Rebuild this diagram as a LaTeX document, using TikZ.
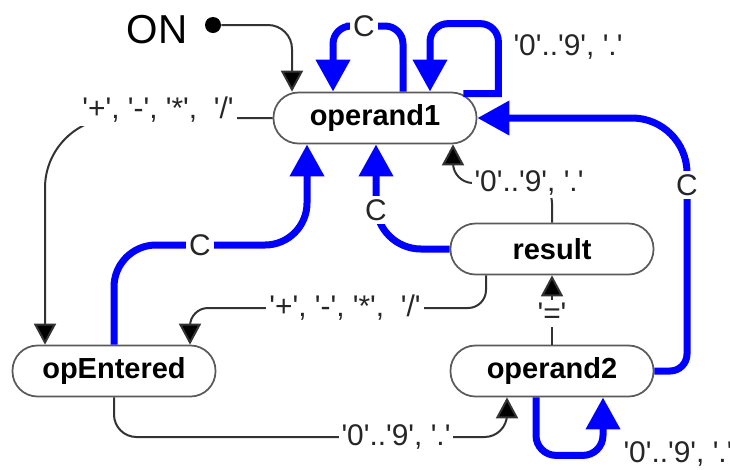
\documentclass[tikz,border=0pt]{standalone}
\usepackage{fontspec}
\setmainfont{Liberation Sans}[Ligatures=TeXOff]
\usetikzlibrary{arrows.meta}
\usetikzlibrary{calc}
\definecolor{edgeGray}{HTML}{333333}
\definecolor{borderGray}{HTML}{5A5A5A}
\definecolor{clearBlue}{HTML}{0000FF}
\tikzset{
	stateBox/.style={draw=borderGray, line width=0.35mm, fill=white, rounded corners=5mm,
		minimum width=40.6mm, minimum height=10.2mm, inner sep=0pt,
		font=\fontsize{16.5}{20}\selectfont\bfseries},
	trans/.style={draw=edgeGray, line width=0.4mm, -{Triangle[width=4.4mm,length=4.2mm,fill=black]}},
	clearEdge/.style={draw=clearBlue, line width=1.4mm, -{Triangle[width=6.6mm,length=6.4mm]}},
	lbl/.style={fill=white, sharp corners, inner sep=0.6mm, text=black!85, font=\fontsize{17}{20}\selectfont},
}
\newcommand{\drawState}[3]{
	\node[stateBox] (#1) at (#2) {#3};
}

\begin{document}
\begin{tikzpicture}[x=0.2mm, y=-0.2mm]
	\useasboundingbox (0,0) rectangle (730,469);

	\coordinate (P_OP1) at (375,118);
	\coordinate (P_RES) at (552,249);
	\coordinate (P_OP2) at (552,371);
	\coordinate (P_OPE) at (114,371);

	\drawState{op1}{P_OP1}{operand1}
	\drawState{res}{P_RES}{result}
	\drawState{op2}{P_OP2}{operand2}
	\drawState{opE}{P_OPE}{opEntered}

	\coordinate (C_TOP) at (364,26);
	\coordinate (L_TOP) at (568,47);
	\coordinate (L_OPS1) at (158,110);
	\coordinate (C_OPE) at (200,245);
	\coordinate (C_RES) at (376,210);
	\coordinate (L_RES) at (529,183);
	\coordinate (L_OPS2) at (345,308);
	\coordinate (C_OP2) at (687,250);
	\coordinate (C_OP2L) at (687,185);
	\coordinate (L_OPE) at (396,437);
	\coordinate (L_OP2) at (678,454);

	\node[font=\fontsize{23}{27}\selectfont] (on) at (157,30) {ON};
	\node[circle, fill=black, inner sep=0pt, minimum size=3.2mm] (dot) at (213,25) {};
	\draw[trans, rounded corners=4.8mm] (dot) -| ($(op1.north)+(-83,0)$);

	\draw[clearEdge, rounded corners=3.6mm] ($(op1.north)+(28,0)$) |- (C_TOP) -| ($(op1.north)+(-42,0)$)
		node[lbl] (c1) at (C_TOP) {C};
	\draw[clearEdge] ($(op1.north east)+(-14,2)$) -- ($(op1.north east)+(21,2)$) -- ($(op1.north east)+(21,-30)$)
		[rounded corners=3.6mm] -- ($(op1.north east)+(21,-68)$) -| ($(op1.north)+(55,0)$)
		node[lbl] (t1) at (L_TOP) {'0'..'9', '.'};
	\draw[trans, rounded corners=14mm] (op1.west) -| ($(opE.north)+(-69,0)$)
		node[lbl] (t2) at (L_OPS1) {'+', '-', '*',\ \ '/'};
	\draw[clearEdge, rounded corners=8.4mm] (opE.north) |- (C_OPE) -| ($(op1.south)+(-68,0)$)
		node[lbl] (c2) at (C_OPE) {C};
	\draw[clearEdge, rounded corners=9mm] (res.west) -| ($(op1.south)+(1,0)$)
		node[lbl] (c3) at (C_RES) {C};
	\draw[trans, rounded corners=4mm] (res.north) |- (L_RES) -| ($(op1.south)+(78,0)$)
		node[lbl] (t3) at (L_RES) {'0'..'9', '.'};
	\draw[trans, rounded corners=3.6mm] ($(res.south)+(-66,0)$) |- (L_OPS2) -| ($(opE.north)+(76,0)$)
		node[lbl] (t4) at (L_OPS2) {'+', '-', '*',\ \ '/'};
	\draw[trans] (op2.north) -- (res.south)
		node[lbl, pos=0.45] (t5) {'='};
	\draw[clearEdge] (op2.east) [rounded corners=3.4mm] -| (C_OP2) [rounded corners=11mm] |- (op1.east)
		node[lbl] (c4) at (C_OP2L) {C};
	\draw[clearEdge, rounded corners=4mm] ($(op2.south)+(-16,0)$) -- ++(0,58) -| ($(op2.south)+(51,0)$)
		node[lbl] (t6) at (L_OP2) {'0'..'9', '.'};
	\draw[trans, rounded corners=4.5mm] (opE.south) |- (L_OPE) -| ($(op2.south)+(-45,0)$)
		node[lbl] (t7) at (L_OPE) {'0'..'9', '.'};

\end{tikzpicture}
\end{document}
